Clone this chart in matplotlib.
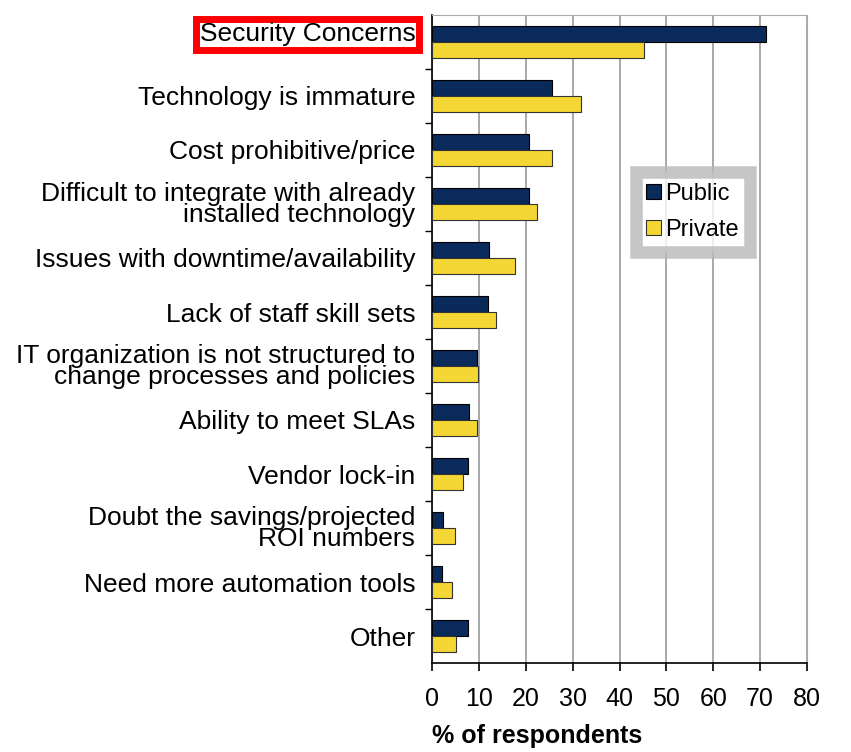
import matplotlib.pyplot as plt
import matplotlib.transforms as mtransforms
import numpy as np

plt.rcParams['font.family'] = ['Liberation Sans', 'DejaVu Sans']

# data (% of respondents)
reasons = [
    "Security Concerns",
    "Technology is immature",
    "Cost prohibitive/price",
    "Difficult to integrate with already\ninstalled technology",
    "Issues with downtime/availability",
    "Lack of staff skill sets",
    "IT organization is not structured to\nchange processes and policies",
    "Ability to meet SLAs",
    "Vendor lock-in",
    "Doubt the savings/projected\nROI numbers",
    "Need more automation tools",
    "Other",
]
public = [71.3, 25.7, 20.6, 20.6, 12.2, 12.0, 9.5, 7.9, 7.6, 2.4, 2.1, 7.6]
private = [45.3, 31.8, 25.6, 22.3, 17.7, 13.7, 9.8, 9.5, 6.6, 4.8, 4.2, 5.1]
xticks = [0, 10, 20, 30, 40, 50, 60, 70, 80]

navy = '#0b2a5c'
yellow = '#f4d634'

fig = plt.figure(figsize=(8.51, 7.52), dpi=100)
ax = fig.add_axes([432/851, 89/752, 375/851, 648/752])

y = np.arange(len(reasons))
h = 0.29
ax.barh(y - h/2, public, height=h, color=navy, edgecolor='black', linewidth=0.8, label='Public', zorder=3)
ax.barh(y + h/2, private, height=h, color=yellow, edgecolor='#333333', linewidth=0.8, label='Private', zorder=3)

ax.set_ylim(len(reasons) - 0.5, -0.5)
ax.set_xlim(0, 80)
ax.set_xticks(xticks)
ax.set_xticklabels([str(t) for t in xticks], fontsize=18)
ax.set_yticks(y)
ax.set_yticklabels(reasons, fontsize=19, linespacing=0.8)
ax.set_yticks(np.arange(len(reasons) - 1) + 0.5, minor=True)
ax.tick_params(axis='y', which='major', length=0, pad=12)
ax.tick_params(axis='y', which='minor', length=5, width=1, direction='out', color='black')
ax.tick_params(axis='x', length=6, width=1.2, direction='out', pad=11, color='black')

ax.grid(axis='x', color='#999999', linewidth=1.2, zorder=0)
ax.spines['left'].set_color('black')
ax.spines['bottom'].set_color('black')
ax.spines['left'].set_linewidth(1.2)
ax.spines['bottom'].set_linewidth(1.2)
ax.spines['top'].set_color('#aaaaaa')
ax.spines['right'].set_color('#aaaaaa')

# highlighted first label
lab = ax.get_yticklabels()[0]
lab.set_bbox(dict(facecolor='white', edgecolor='red', linewidth=5, boxstyle='square,pad=0.12'))
lab.set_transform(lab.get_transform() + mtransforms.ScaledTranslation(0, 10/100, fig.dpi_scale_trans))

ax.set_xlabel('% of respondents', fontsize=18, fontweight='bold', ha='left', va='top')
ax.xaxis.set_label_coords(0.0, -0.094)

leg = ax.legend(loc='center', bbox_to_anchor=(0.695, 0.696), fontsize=17, frameon=True,
                fancybox=False, handlelength=0.6, handleheight=0.6, handletextpad=0.2,
                labelspacing=0.6, borderpad=0.45, borderaxespad=0)
leg.get_frame().set_edgecolor('#b8b8b8')
leg.get_frame().set_linewidth(9)
leg.get_frame().set_facecolor('white')
leg.set_zorder(5)

fig.savefig('out.png', dpi=100)
